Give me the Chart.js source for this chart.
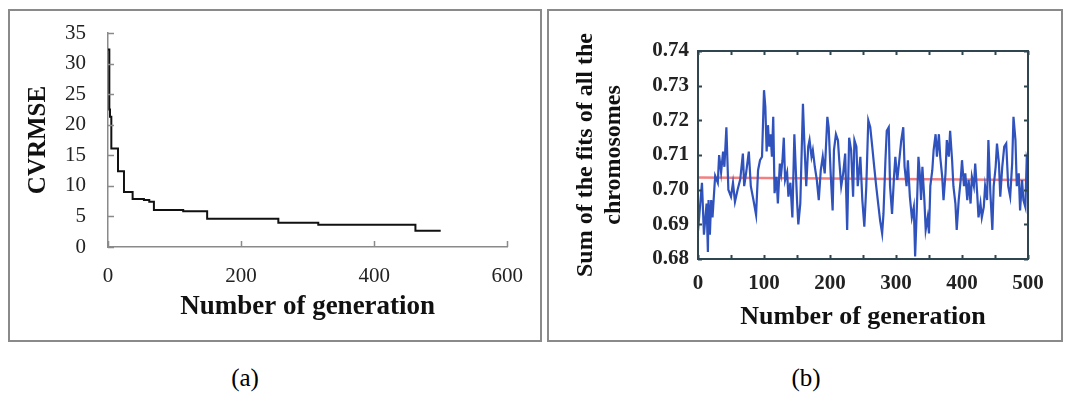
<!DOCTYPE html>
<html>
<head>
<meta charset="utf-8">
<script src="https://cdn.jsdelivr.net/npm/chart.js@4.4.1/dist/chart.umd.min.js"></script>
<style>
  html, body { margin: 0; padding: 0; background: #fff; }
  body { width: 1069px; height: 402px; position: relative; overflow: hidden; font-family: "Liberation Serif", serif; }
  .box { position: absolute; border: 2px solid #8a8a8a; box-sizing: border-box; }
  #boxA { left: 8px; top: 9px; width: 534px; height: 333px; }
  #boxB { left: 547px; top: 9px; width: 516px; height: 333px; }
  canvas { position: absolute; }
  #chartA { left: 9px; top: 11px; }
  #chartB { left: 549px; top: 11px; }
  .cap { position: absolute; top: 364px; font-size: 25px; width: 60px; text-align: center; }
</style>
</head>
<body>
<div class="box" id="boxA"></div>
<div class="box" id="boxB"></div>
<canvas id="chartA" width="531" height="329"></canvas>
<canvas id="chartB" width="513" height="329"></canvas>
<div class="cap" style="left:215px">(a)</div>
<div class="cap" style="left:776px">(b)</div>

<script>
// (a) best CVRMSE per generation (step changes)
const genA = [0, 2, 3, 5, 15, 24, 37, 54, 62, 69, 113, 149, 256, 316, 462, 500];
const cvrmse = [32.3, 22.5, 21.3, 16.1, 12.4, 9.0, 7.85, 7.7, 7.4, 6.05, 5.85, 4.6, 3.95, 3.65, 2.65, 2.65];
const cvrmseTicks = [0, 5, 10, 15, 20, 25, 30, 35];
const genTicksA = [0, 200, 400, 600];

// (b) sum of the fits of all the chromosomes
const genB = [0, 6, 9, 13, 15, 16, 18, 20, 22, 26,
  30, 32, 35, 38, 40, 43, 46, 50, 53, 56,
  60, 64, 68, 70, 73, 77, 80, 84, 88, 91,
  94, 97, 100, 102, 104, 106, 108, 110, 112, 114,
  116, 119, 121, 124, 126, 128, 130, 132, 135, 137,
  140, 143, 146, 150, 152, 155, 159, 161, 164, 167,
  169, 172, 174, 177, 180, 183, 186, 189, 192, 196,
  198, 201, 204, 206, 209, 212, 214, 217, 220, 223,
  226, 229, 232, 235, 237, 240, 242, 246, 249, 252,
  255, 258, 261, 264, 267, 270, 273, 276, 279, 281,
  284, 286, 289, 291, 294, 297, 299, 302, 305, 308,
  311, 313, 316, 318, 321, 324, 327, 329, 332, 334,
  336, 338, 340, 343, 345, 348, 350, 352, 355, 357,
  360, 362, 365, 367, 370, 372, 375, 377, 380, 382,
  385, 387, 390, 392, 395, 398, 400, 403, 405, 408,
  410, 413, 415, 418, 420, 423, 425, 428, 430, 433,
  435, 438, 440, 443, 446, 448, 451, 453, 456, 458,
  461, 464, 467, 470, 473, 476, 478, 481, 483, 486,
  488, 491, 493, 496, 498, 500];
const fitSum = [0.688, 0.702, 0.687, 0.696, 0.682, 0.697, 0.687, 0.697, 0.692, 0.704,
  0.702, 0.710, 0.705, 0.711, 0.7066, 0.718, 0.700, 0.698, 0.702, 0.6965,
  0.700, 0.703, 0.7104, 0.701, 0.705, 0.711, 0.701, 0.697, 0.6927, 0.7056,
  0.7085, 0.7095, 0.7287, 0.724, 0.711, 0.7186, 0.7124, 0.716, 0.7095, 0.721,
  0.699, 0.7037, 0.696, 0.7075, 0.7047, 0.7085, 0.715, 0.7028, 0.705, 0.698,
  0.702, 0.692, 0.716, 0.697, 0.690, 0.696, 0.7248, 0.7143, 0.701, 0.7124,
  0.7143, 0.7095, 0.7114, 0.7066, 0.7028, 0.697, 0.7056, 0.7095, 0.7047, 0.721,
  0.718, 0.7047, 0.694, 0.7114, 0.716, 0.7143, 0.7085, 0.701, 0.7047, 0.7104,
  0.6884, 0.715, 0.7114, 0.698, 0.7143, 0.7124, 0.701, 0.7095, 0.697, 0.6893,
  0.701, 0.720, 0.718, 0.7124, 0.7066, 0.701, 0.696, 0.691, 0.6874, 0.693,
  0.7085, 0.717, 0.718, 0.701, 0.693, 0.7037, 0.7095, 0.7028, 0.7085, 0.7143,
  0.718, 0.7066, 0.701, 0.7085, 0.698, 0.692, 0.695, 0.6807, 0.697, 0.7095,
  0.7047, 0.697, 0.7066, 0.697, 0.6884, 0.692, 0.6874, 0.701, 0.7056, 0.7114,
  0.716, 0.7095, 0.716, 0.7095, 0.7037, 0.697, 0.7047, 0.7143, 0.7095, 0.717,
  0.7085, 0.701, 0.696, 0.6884, 0.697, 0.7028, 0.7085, 0.701, 0.7047, 0.697,
  0.7028, 0.696, 0.7037, 0.701, 0.7075, 0.699, 0.692, 0.696, 0.692, 0.695,
  0.701, 0.697, 0.7143, 0.699, 0.6884, 0.701, 0.7066, 0.7133, 0.7075, 0.698,
  0.7066, 0.7124, 0.7133, 0.701, 0.698, 0.7075, 0.721, 0.7143, 0.701, 0.7047,
  0.694, 0.7028, 0.697, 0.695, 0.7085, 0.7066];
const meanGen = [0, 500];
const meanFit = [0.7035, 0.7028];
const fitTicks = [0.68, 0.69, 0.70, 0.71, 0.72, 0.73, 0.74];
const genTicksB = [0, 100, 200, 300, 400, 500];
const genMinorB = [0, 50, 100, 150, 200, 250, 300, 350, 400, 450, 500];

const serif = "'Liberation Serif', 'Times New Roman', serif";

function setTicks(values) {
  return (scale) => { scale.ticks = values.map((v) => ({ value: v })); };
}
// pin the axis box size and drop the label overhang so the plot area stays put
function fixSize(prop, px) {
  return (scale) => {
    scale[prop] = px;
    scale.paddingTop = 0; scale.paddingBottom = 0;
  };
}

// tick marks drawn on the inside of the plot area, optional full frame
const innerTicks = {
  id: "innerTicks",
  afterDraw(chart, args, o) {
    const { ctx, chartArea: a, scales } = chart;
    ctx.save();
    ctx.strokeStyle = o.color;
    ctx.lineWidth = o.width;
    if (o.frame) ctx.strokeRect(a.left, a.top, a.right - a.left, a.bottom - a.top);
    ctx.beginPath();
    for (const v of o.xTicks) {
      const px = Math.round(scales.x.getPixelForValue(v)) + 0.5;
      ctx.moveTo(px, a.bottom); ctx.lineTo(px, a.bottom - o.len);
      if (o.frame) { ctx.moveTo(px, a.top); ctx.lineTo(px, a.top + o.len); }
    }
    for (const v of o.yTicks) {
      const py = Math.round(scales.y.getPixelForValue(v)) + 0.5;
      ctx.moveTo(a.left, py); ctx.lineTo(a.left + o.len, py);
      if (o.frame) { ctx.moveTo(a.right, py); ctx.lineTo(a.right - o.len, py); }
    }
    ctx.stroke();
    ctx.restore();
  }
};

new Chart(document.getElementById("chartA"), {
  type: "line",
  data: {
    datasets: [{
      data: genA.map((g, i) => ({ x: g, y: cvrmse[i] })),
      borderColor: "#111",
      borderWidth: 2,
      pointRadius: 0,
      stepped: "before"
    }]
  },
  options: {
    responsive: false,
    animation: false,
    layout: { padding: { top: 22, right: 32, left: 0, bottom: 0 } },
    plugins: {
      legend: { display: false },
      tooltip: { enabled: false },
      innerTicks: { color: "#8a8a8a", width: 1.5, len: 6, frame: false, xTicks: genTicksA, yTicks: cvrmseTicks }
    },
    scales: {
      x: {
        type: "linear", min: 0, max: 600,
        afterBuildTicks: setTicks(genTicksA),
        afterFit: fixSize("height", 93),
        grid: { display: false, drawTicks: false },
        border: { display: true, color: "#8a8a8a", width: 1.5 },
        ticks: { color: "#222", font: { family: serif, size: 21 }, padding: 17, maxRotation: 0 },
        title: { display: true, text: "Number of generation", color: "#111", font: { family: serif, size: 27, weight: "bold" }, padding: { top: 0, bottom: 17 } }
      },
      y: {
        min: 0, max: 35,
        afterBuildTicks: setTicks(cvrmseTicks),
        afterFit: fixSize("width", 99),
        grid: { display: false, drawTicks: false },
        border: { display: true, color: "#8a8a8a", width: 1.5 },
        ticks: { color: "#222", font: { family: serif, size: 21 }, padding: 22 },
        title: { display: true, text: "CVRMSE", color: "#111", font: { family: serif, size: 25, weight: "bold" }, padding: { top: 15, bottom: 0 } }
      }
    }
  },
  plugins: [innerTicks]
});

new Chart(document.getElementById("chartB"), {
  type: "line",
  data: {
    datasets: [{
      data: genB.map((g, i) => ({ x: g, y: fitSum[i] })),
      borderColor: "#2f52bd",
      borderWidth: 2.2,
      pointRadius: 0,
      tension: 0
    }, {
      data: meanGen.map((g, i) => ({ x: g, y: meanFit[i] })),
      borderColor: "#f28080",
      borderWidth: 2.5,
      pointRadius: 0
    }]
  },
  options: {
    responsive: false,
    animation: false,
    layout: { padding: { top: 40, right: 34, left: 0, bottom: 0 } },
    plugins: {
      legend: { display: false },
      tooltip: { enabled: false },
      innerTicks: { color: "#2f4650", width: 2, len: 4, frame: true, xTicks: genMinorB, yTicks: fitTicks }
    },
    scales: {
      x: {
        type: "linear", min: 0, max: 500,
        afterBuildTicks: setTicks(genTicksB),
        afterFit: fixSize("height", 81),
        grid: { display: false, drawTicks: false },
        border: { display: false },
        ticks: { color: "#222", font: { family: serif, size: 21, weight: "bold" }, padding: 12, maxRotation: 0 },
        title: { display: true, text: "Number of generation", color: "#111", font: { family: serif, size: 26, weight: "bold" }, padding: { top: 0, bottom: 7 } }
      },
      y: {
        min: 0.68, max: 0.74,
        afterBuildTicks: setTicks(fitTicks),
        afterFit: fixSize("width", 149),
        grid: { display: false, drawTicks: false },
        border: { display: false },
        ticks: { color: "#222", font: { family: serif, size: 21, weight: "bold" }, padding: 9, callback: (v) => v.toFixed(2) },
        title: { display: true, text: ["Sum of the fits of all the", "chromosomes"], color: "#111", font: { family: serif, size: 24, weight: "bold" }, padding: { top: 22, bottom: 0 } }
      }
    }
  },
  plugins: [innerTicks]
});
</script>
</body>
</html>
